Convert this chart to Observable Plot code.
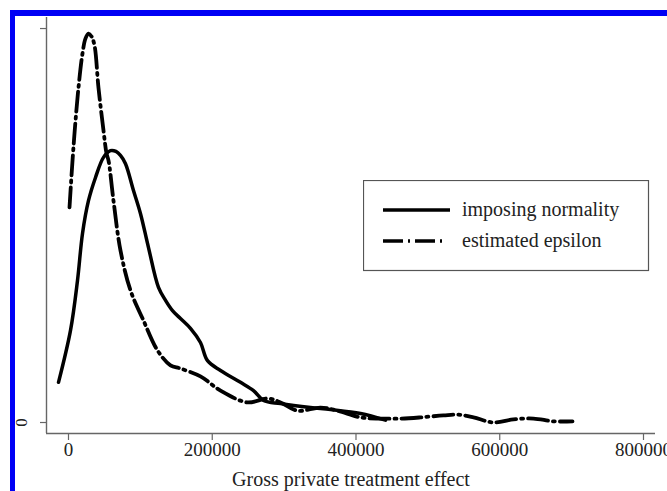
<!DOCTYPE html>
<html>
<head>
<meta charset="utf-8">
<script src="https://cdn.jsdelivr.net/npm/d3@7"></script>
<script src="https://cdn.jsdelivr.net/npm/@observablehq/plot@0.6"></script>
<style>
  html, body { margin: 0; padding: 0; background: #fff; overflow: hidden; }
  #wrap { position: relative; width: 667px; height: 491px; overflow: hidden; }
  #chart { position: absolute; left: 0; top: 0; }
  #frame { position: absolute; left: 10px; top: 10px; width: 720px; height: 540px;
           border-left: 5px solid #0000f5; border-top: 6px solid #0000f5; pointer-events: none; }
  #legend { position: absolute; left: 363px; top: 180px; }
</style>
</head>
<body>
<div id="wrap">
  <div id="chart"></div>
  <div id="frame"></div>
  <svg id="legend" width="287" height="92"></svg>
</div>
<script>
const seriesNames = ["imposing normality", "estimated epsilon"];
const xTicks = [0, 200000, 400000, 600000, 800000];
const yTicks = [0, 1];
const yTickLabels = ["0", ""];
const xLabel = "Gross private treatment effect";

// imposing normality (solid)
const normalX = [-13900, 2800, 12500, 19500, 27800, 37600, 48700, 58400, 66000, 72300, 79300, 90400, 100200, 111300, 125200, 135000, 144700, 155800, 169700, 183600, 193400, 211500, 239300, 257400, 271300, 295000, 336700, 364500, 406300, 441000];
const normalY = [0.102, 0.234, 0.360, 0.480, 0.563, 0.622, 0.673, 0.690, 0.688, 0.678, 0.657, 0.589, 0.530, 0.444, 0.343, 0.310, 0.284, 0.264, 0.239, 0.203, 0.157, 0.132, 0.102, 0.081, 0.056, 0.048, 0.038, 0.033, 0.023, 0.006];

// estimated epsilon (dash-dot)
const epsX = [1400, 5600, 9500, 13900, 19500, 23700, 27800, 32000, 36200, 41700, 48700, 52900, 55700, 62600, 72300, 86300, 104300, 123800, 141900, 155800, 183600, 211500, 249000, 276900, 295000, 318600, 350600, 374300, 406300, 434100, 461900, 489700, 521700, 541200, 563500, 591300, 619100, 647000, 674700, 701200];
const epsY = [0.546, 0.665, 0.760, 0.850, 0.937, 0.975, 0.987, 0.980, 0.957, 0.850, 0.741, 0.683, 0.665, 0.563, 0.437, 0.335, 0.259, 0.183, 0.145, 0.137, 0.117, 0.081, 0.051, 0.061, 0.051, 0.030, 0.038, 0.030, 0.013, 0.010, 0.010, 0.013, 0.018, 0.020, 0.013, 0.000, 0.008, 0.010, 0.003, 0.003];

const normalRows = normalX.map((x, i) => ({x, y: normalY[i], s: seriesNames[0]}));
const epsRows = epsX.map((x, i) => ({x, y: epsY[i], s: seriesNames[1]}));

const xDomain = [-30600, 816700];
const yDomain = [-0.0279, 1.028];
const font = "'Liberation Serif', 'Times New Roman', serif";
const dash = "20,5,2,5";

const chart = Plot.plot({
  width: 667,
  height: 491,
  marginLeft: 46,
  marginRight: 12,
  marginTop: 17,
  marginBottom: 58,
  style: {fontFamily: font, background: "#fff", color: "#222", overflow: "visible"},
  x: {domain: xDomain},
  y: {domain: yDomain},
  marks: [
    Plot.ruleX([xDomain[0]], {stroke: "#666", strokeWidth: 1.4}),
    Plot.ruleY([yDomain[0]], {stroke: "#666", strokeWidth: 1.4}),
    Plot.axisX({
      ticks: xTicks, tickSize: 7, tickPadding: 2, stroke: "#666", strokeWidth: 1.2,
      tickFormat: d => String(d), fontSize: 19, fill: "#222",
      label: xLabel, labelAnchor: "center", labelArrow: "none", labelOffset: 52
    }),
    Plot.axisY({
      ticks: yTicks, tickSize: 6, tickPadding: 14, tickRotate: -90, stroke: "#666", strokeWidth: 1.2,
      tickFormat: d => yTickLabels[yTicks.indexOf(d)], fontSize: 17, fill: "#222", label: null
    }),
    Plot.line(normalRows, {x: "x", y: "y", stroke: "#000", strokeWidth: 3.5, curve: "catmull-rom"}),
    Plot.line(epsRows, {x: "x", y: "y", stroke: "#000", strokeWidth: 3.8, curve: "catmull-rom", strokeDasharray: dash})
  ]
});
chart.querySelectorAll("text").forEach(t => { if (t.textContent === xLabel) t.setAttribute("font-size", "20"); });
document.getElementById("chart").appendChild(chart);

// legend
const lg = d3.select("#legend");
lg.append("rect").attr("x", 0.5).attr("y", 0.5).attr("width", 285).attr("height", 90)
  .attr("fill", "#fff").attr("stroke", "#555").attr("stroke-width", 1.2);
seriesNames.forEach((name, i) => {
  const cy = 30 + i * 31;
  lg.append("line").attr("x1", 20).attr("x2", i === 0 ? 87 : 83).attr("y1", cy).attr("y2", cy)
    .attr("stroke", "#000").attr("stroke-width", 3.5)
    .attr("stroke-dasharray", i === 0 ? null : dash);
  lg.append("text").attr("x", 99).attr("y", cy).attr("dy", "0.32em")
    .attr("font-family", font).attr("font-size", 20).attr("fill", "#222").text(name);
});
</script>
</body>
</html>
